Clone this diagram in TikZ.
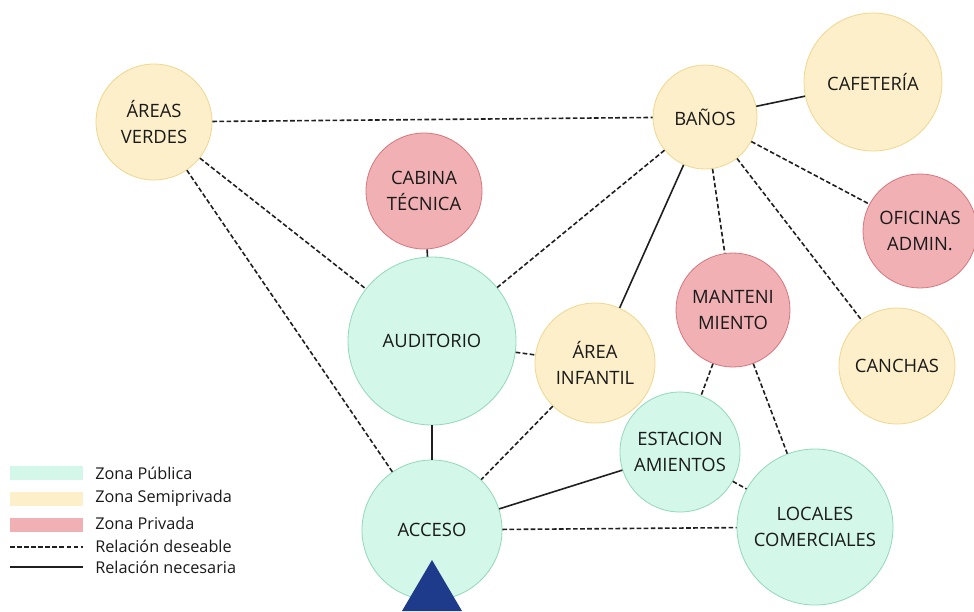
\documentclass[tikz,border=0pt]{standalone}
\usepackage{fontspec}
\setmainfont{Open Sans}
\definecolor{pubfill}{HTML}{D3F7E9}
\definecolor{pubdraw}{HTML}{92D8BA}
\definecolor{semifill}{HTML}{FCEFC9}
\definecolor{semidraw}{HTML}{F0D78F}
\definecolor{privfill}{HTML}{F1B0B3}
\definecolor{privdraw}{HTML}{D7767C}
\definecolor{navy}{HTML}{1E3A8A}
\definecolor{txt}{HTML}{1A1A1A}
\tikzset{
  zone/.style={circle, inner sep=0pt, align=center, line width=0.6pt, text=txt,
    font=\fontsize{13.8}{19.5}\selectfont},
  pub/.style={zone, fill=pubfill, draw=pubdraw, minimum size=#1*1.5pt},
  semi/.style={zone, fill=semifill, draw=semidraw, minimum size=#1*1.5pt},
  priv/.style={zone, fill=privfill, draw=privdraw, minimum size=#1*1.5pt},
  need/.style={line width=1.2pt, draw=black!88},
  want/.style={line width=1.2pt, draw=black!88, dash pattern=on 3.5pt off 1.8pt},
  legtext/.style={anchor=west, text=txt, inner sep=0pt, font=\fontsize{12.2}{14}\selectfont},
}
\begin{document}
\begin{tikzpicture}[x=0.75pt, y=-0.75pt]
\useasboundingbox (0,0) rectangle (974,611);
% zones
\node[semi=58] (av) at (154,122) {ÁREAS\\VERDES};
\node[semi=52] (ban) at (705,117) {BAÑOS};
\node[semi=69] (caf) at (873,82) {CAFETERÍA};
\node[priv=57] (ofi) at (920,231) {OFICINAS\\ADMIN.};
\node[priv=58] (cab) at (424,191) {CABINA\\TÉCNICA};
\node[pub=84] (aud) at (432,341) {AUDITORIO};
\node[semi=60] (inf) at (595,363) {ÁREA\\INFANTIL};
\node[priv=57] (man) at (733,310) {MANTENI\\MIENTO};
\node[semi=58] (can) at (897,366) {CANCHAS};
\node[pub=60] (est) at (680,452) {ESTACION\\AMIENTOS};
\node[pub=78] (loc) at (815,527) {LOCALES\\COMERCIALES};
\node[pub=70] (acc) at (432,530) {ACCESO};
% connectors
\draw[want] (av) -- (ban);
\draw[want] (av) -- (aud);
\draw[want] (av) -- (acc);
\draw[want] (ban) -- (aud);
\draw[need] (ban) -- (inf);
\draw[want] (ban) -- (man);
\draw[want] (ban) -- (can);
\draw[want] (ban) -- (ofi);
\draw[need] (ban) -- (caf);
\draw[need] (cab) -- (aud);
\draw[want] (aud) -- (inf);
\draw[need] (aud) -- (acc);
\draw[want] (inf) -- (acc);
\draw[want] (man) -- (est);
\draw[want] (man) -- (loc);
\draw[need] (est) -- (acc);
\draw[want] (est) -- (loc);
\draw[want] (acc) -- (loc);
% entrance marker
\fill[navy] (432,560) -- (402,611) -- (462,611) -- cycle;
% legend
\fill[pubfill] (10,466) rectangle (83,480);
\fill[semifill] (10,492) rectangle (83,506);
\fill[privfill] (10,518) rectangle (83,532);
\coordinate (d1) at (10,547);
\coordinate (d2) at (83,547);
\coordinate (s1) at (10,567);
\coordinate (s2) at (83,567);
\draw[want, line width=1pt] (d1) -- (d2);
\draw[need, line width=1pt] (s1) -- (s2);
\node[legtext] (l1) at (95,473) {Zona Pública};
\node[legtext] (l2) at (95,498) {Zona Semiprivada};
\node[legtext] (l3) at (95,523) {Zona Privada};
\node[legtext] (l4) at (95,546) {Relación deseable};
\node[legtext] (l5) at (95,567) {Relación necesaria};
\end{tikzpicture}
\end{document}
